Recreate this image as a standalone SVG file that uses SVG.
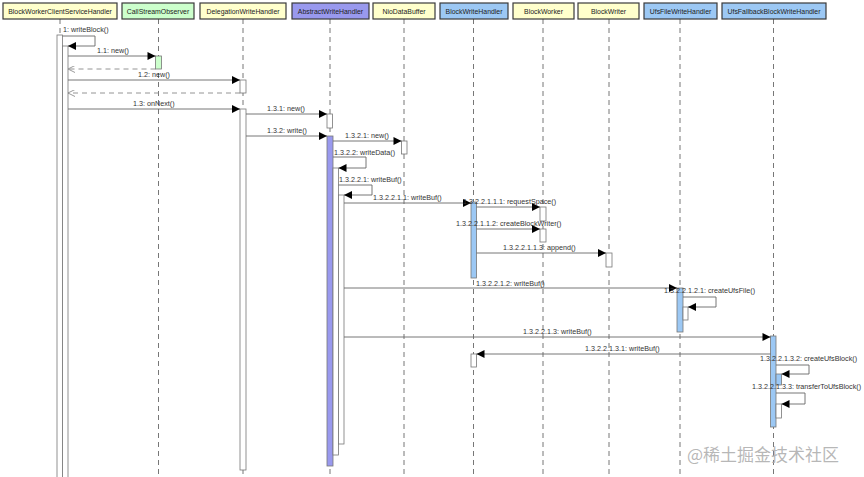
<svg xmlns="http://www.w3.org/2000/svg" width="864" height="477" viewBox="0 0 864 477">
<style>
.hd{stroke:#3a3a3a;stroke-width:1.2}
.y{fill:#ffffcc}.g{fill:#ccffcc}.p{fill:#9999ee}.b{fill:#9cc8f4}
.ht{font-family:"Liberation Sans",Arial,sans-serif;font-size:6.9px;fill:#222;text-anchor:middle}
.ll{stroke:#777;stroke-width:1;stroke-dasharray:5,4;fill:none}
.bar{stroke:#777;stroke-width:0.8}
.w{fill:#fff}
.m{stroke:#666;stroke-width:0.9;fill:none;marker-end:url(#ah)}
.r{stroke:#888;stroke-width:0.9;fill:none;stroke-dasharray:5,4;marker-end:url(#oa)}
.t{font-family:"Liberation Sans",Arial,sans-serif;font-size:7.2px;fill:#333}
</style>
<defs>
<marker id="ah" viewBox="0 0 10 10" refX="10" refY="5" markerWidth="9" markerHeight="8" markerUnits="userSpaceOnUse" orient="auto">
<path d="M0,0 L10,5 L0,10 Z" fill="#000"/>
</marker>
<marker id="oa" viewBox="0 0 10 10" refX="10" refY="5" markerWidth="7" markerHeight="7" markerUnits="userSpaceOnUse" orient="auto">
<path d="M0,0 L10,5 L0,10" fill="none" stroke="#888" stroke-width="1.2"/>
</marker>
</defs>
<rect width="864" height="477" fill="#fff"/>

<g id="BlockWorkerClientServiceHandler">
<line class="ll" x1="60" y1="19" x2="60" y2="477"/>
<rect class="hd y" x="3" y="3" width="114" height="16"/>
<text class="ht" x="60" y="13.5">BlockWorkerClientServiceHandler</text>
<rect class="bar w" x="57" y="35" width="5.5" height="445"/>
<rect class="bar w" x="62.5" y="46" width="5.5" height="434"/>
</g>

<g id="CallStreamObserver">
<line class="ll" x1="158.5" y1="19" x2="158.5" y2="477"/>
<rect class="hd g" x="122" y="3" width="72" height="16"/>
<text class="ht" x="158" y="13.5">CallStreamObserver</text>
<rect class="bar g" x="155.5" y="56" width="6" height="13"/>
</g>

<g id="DelegationWriteHandler">
<line class="ll" x1="243" y1="19" x2="243" y2="477"/>
<rect class="hd y" x="200" y="3" width="86" height="16"/>
<text class="ht" x="243" y="13.5">DelegationWriteHandler</text>
<rect class="bar w" x="240" y="80" width="6" height="13"/>
<rect class="bar w" x="240" y="109" width="6" height="361"/>
</g>

<g id="AbstractWriteHandler">
<line class="ll" x1="330" y1="19" x2="330" y2="477"/>
<rect class="hd p" x="292" y="3" width="77" height="16"/>
<text class="ht" x="330.5" y="13.5">AbstractWriteHandler</text>
<rect class="bar w" x="327" y="114" width="5.5" height="14"/>
<rect class="bar p" x="327" y="136" width="6" height="330"/>
<rect class="bar w" x="333" y="168" width="5.5" height="287"/>
<rect class="bar w" x="338.5" y="195" width="5.5" height="249"/>
</g>

<g id="NioDataBuffer">
<line class="ll" x1="404" y1="19" x2="404" y2="477"/>
<rect class="hd y" x="373" y="3" width="62" height="16"/>
<text class="ht" x="404" y="13.5">NioDataBuffer</text>
<rect class="bar w" x="401.5" y="141" width="5.5" height="13"/>
</g>

<g id="BlockWriteHandler">
<line class="ll" x1="473.5" y1="19" x2="473.5" y2="477"/>
<rect class="hd b" x="440" y="3" width="68" height="16"/>
<text class="ht" x="474" y="13.5">BlockWriteHandler</text>
<rect class="bar b" x="471" y="202" width="5.5" height="76"/>
<rect class="bar w" x="471" y="354" width="5.5" height="13"/>
</g>

<g id="BlockWorker">
<line class="ll" x1="543" y1="19" x2="543" y2="477"/>
<rect class="hd y" x="513" y="3" width="61" height="16"/>
<text class="ht" x="543.5" y="13.5">BlockWorker</text>
<rect class="bar w" x="540" y="207" width="6" height="14"/>
<rect class="bar w" x="540" y="229" width="6" height="13"/>
</g>

<g id="BlockWriter">
<line class="ll" x1="609" y1="19" x2="609" y2="477"/>
<rect class="hd y" x="578" y="3" width="61" height="16"/>
<text class="ht" x="608.5" y="13.5">BlockWriter</text>
<rect class="bar w" x="606" y="253" width="6" height="14"/>
</g>

<g id="UfsFileWriteHandler">
<line class="ll" x1="680" y1="19" x2="680" y2="477"/>
<rect class="hd b" x="644" y="3" width="73" height="16"/>
<text class="ht" x="680.5" y="13.5">UfsFileWriteHandler</text>
<rect class="bar b" x="677" y="288" width="6" height="44"/>
<rect class="bar w" x="683" y="307" width="5" height="13"/>
</g>

<g id="UfsFallbackBlockWriteHandler">
<line class="ll" x1="773.5" y1="19" x2="773.5" y2="477"/>
<rect class="hd b" x="722" y="3" width="104" height="16"/>
<text class="ht" x="774" y="13.5">UfsFallbackBlockWriteHandler</text>
<rect class="bar b" x="770.5" y="336" width="5.5" height="91"/>
<rect class="bar b" x="776" y="374" width="5.5" height="11"/>
<rect class="bar w" x="776" y="404" width="5.5" height="14"/>
</g>

<g id="connectors">
<path class="m" d="M62.5,36 H95 V46 H68"/>
<text class="t" x="63" y="32">1: writeBlock()</text>
<path class="m" d="M68,56 H155.5"/>
<text class="t" x="97" y="53">1.1: new()</text>
<path class="r" d="M155.5,69 H68"/>
<path class="m" d="M68,80 H240"/>
<text class="t" x="138" y="77">1.2: new()</text>
<path class="r" d="M240,93 H68"/>
<path class="m" d="M68,109 H240"/>
<text class="t" x="133" y="106">1.3: onNext()</text>
<path class="m" d="M246,114 H327"/>
<text class="t" x="267" y="111">1.3.1: new()</text>
<path class="m" d="M246,136 H327"/>
<text class="t" x="267" y="133">1.3.2: write()</text>
<path class="m" d="M333,141 H401.5"/>
<text class="t" x="345" y="138">1.3.2.1: new()</text>
<path class="m" d="M333,157 H366 V168 H338.5"/>
<text class="t" x="334" y="155">1.3.2.2: writeData()</text>
<path class="m" d="M338.5,185 H372 V195 H344"/>
<text class="t" x="339" y="182">1.3.2.2.1: writeBuf()</text>
<path class="m" d="M344,203 H471"/>
<text class="t" x="373" y="200">1.3.2.2.1.1: writeBuf()</text>
<path class="m" d="M476.5,207 H540"/>
<text class="t" x="463" y="204">1.3.2.2.1.1.1: requestSpace()</text>
<path class="m" d="M476.5,229 H540"/>
<text class="t" x="456" y="226">1.3.2.2.1.1.2: createBlockWriter()</text>
<path class="m" d="M476.5,253 H606"/>
<text class="t" x="503" y="250">1.3.2.2.1.1.3: append()</text>
<path class="m" d="M344,288 H677"/>
<text class="t" x="476" y="285.5">1.3.2.2.1.2: writeBuf()</text>
<path class="m" d="M683,297 H716 V307 H688"/>
<text class="t" x="664" y="292.5">1.3.2.2.1.2.1: createUfsFile()</text>
<path class="m" d="M344,337 H770.5"/>
<text class="t" x="523" y="334">1.3.2.2.1.3: writeBuf()</text>
<path class="m" d="M770.5,354 H476.5"/>
<text class="t" x="585" y="351">1.3.2.2.1.3.1: writeBuf()</text>
<path class="m" d="M776,365 H809 V374 H781.5"/>
<text class="t" x="760" y="361">1.3.2.2.1.3.2: createUfsBlock()</text>
<path class="m" d="M776,393 H805 V404 H781.5"/>
<text class="t" x="752" y="389">1.3.2.2.1.3.3: transferToUfsBlock()</text>
</g>

<text x="687" y="461" font-family="'Noto Sans CJK SC','Liberation Sans',sans-serif" font-size="17" fill="#aaaaaa" fill-opacity="0.85">@稀土掘金技术社区</text>
</svg>
